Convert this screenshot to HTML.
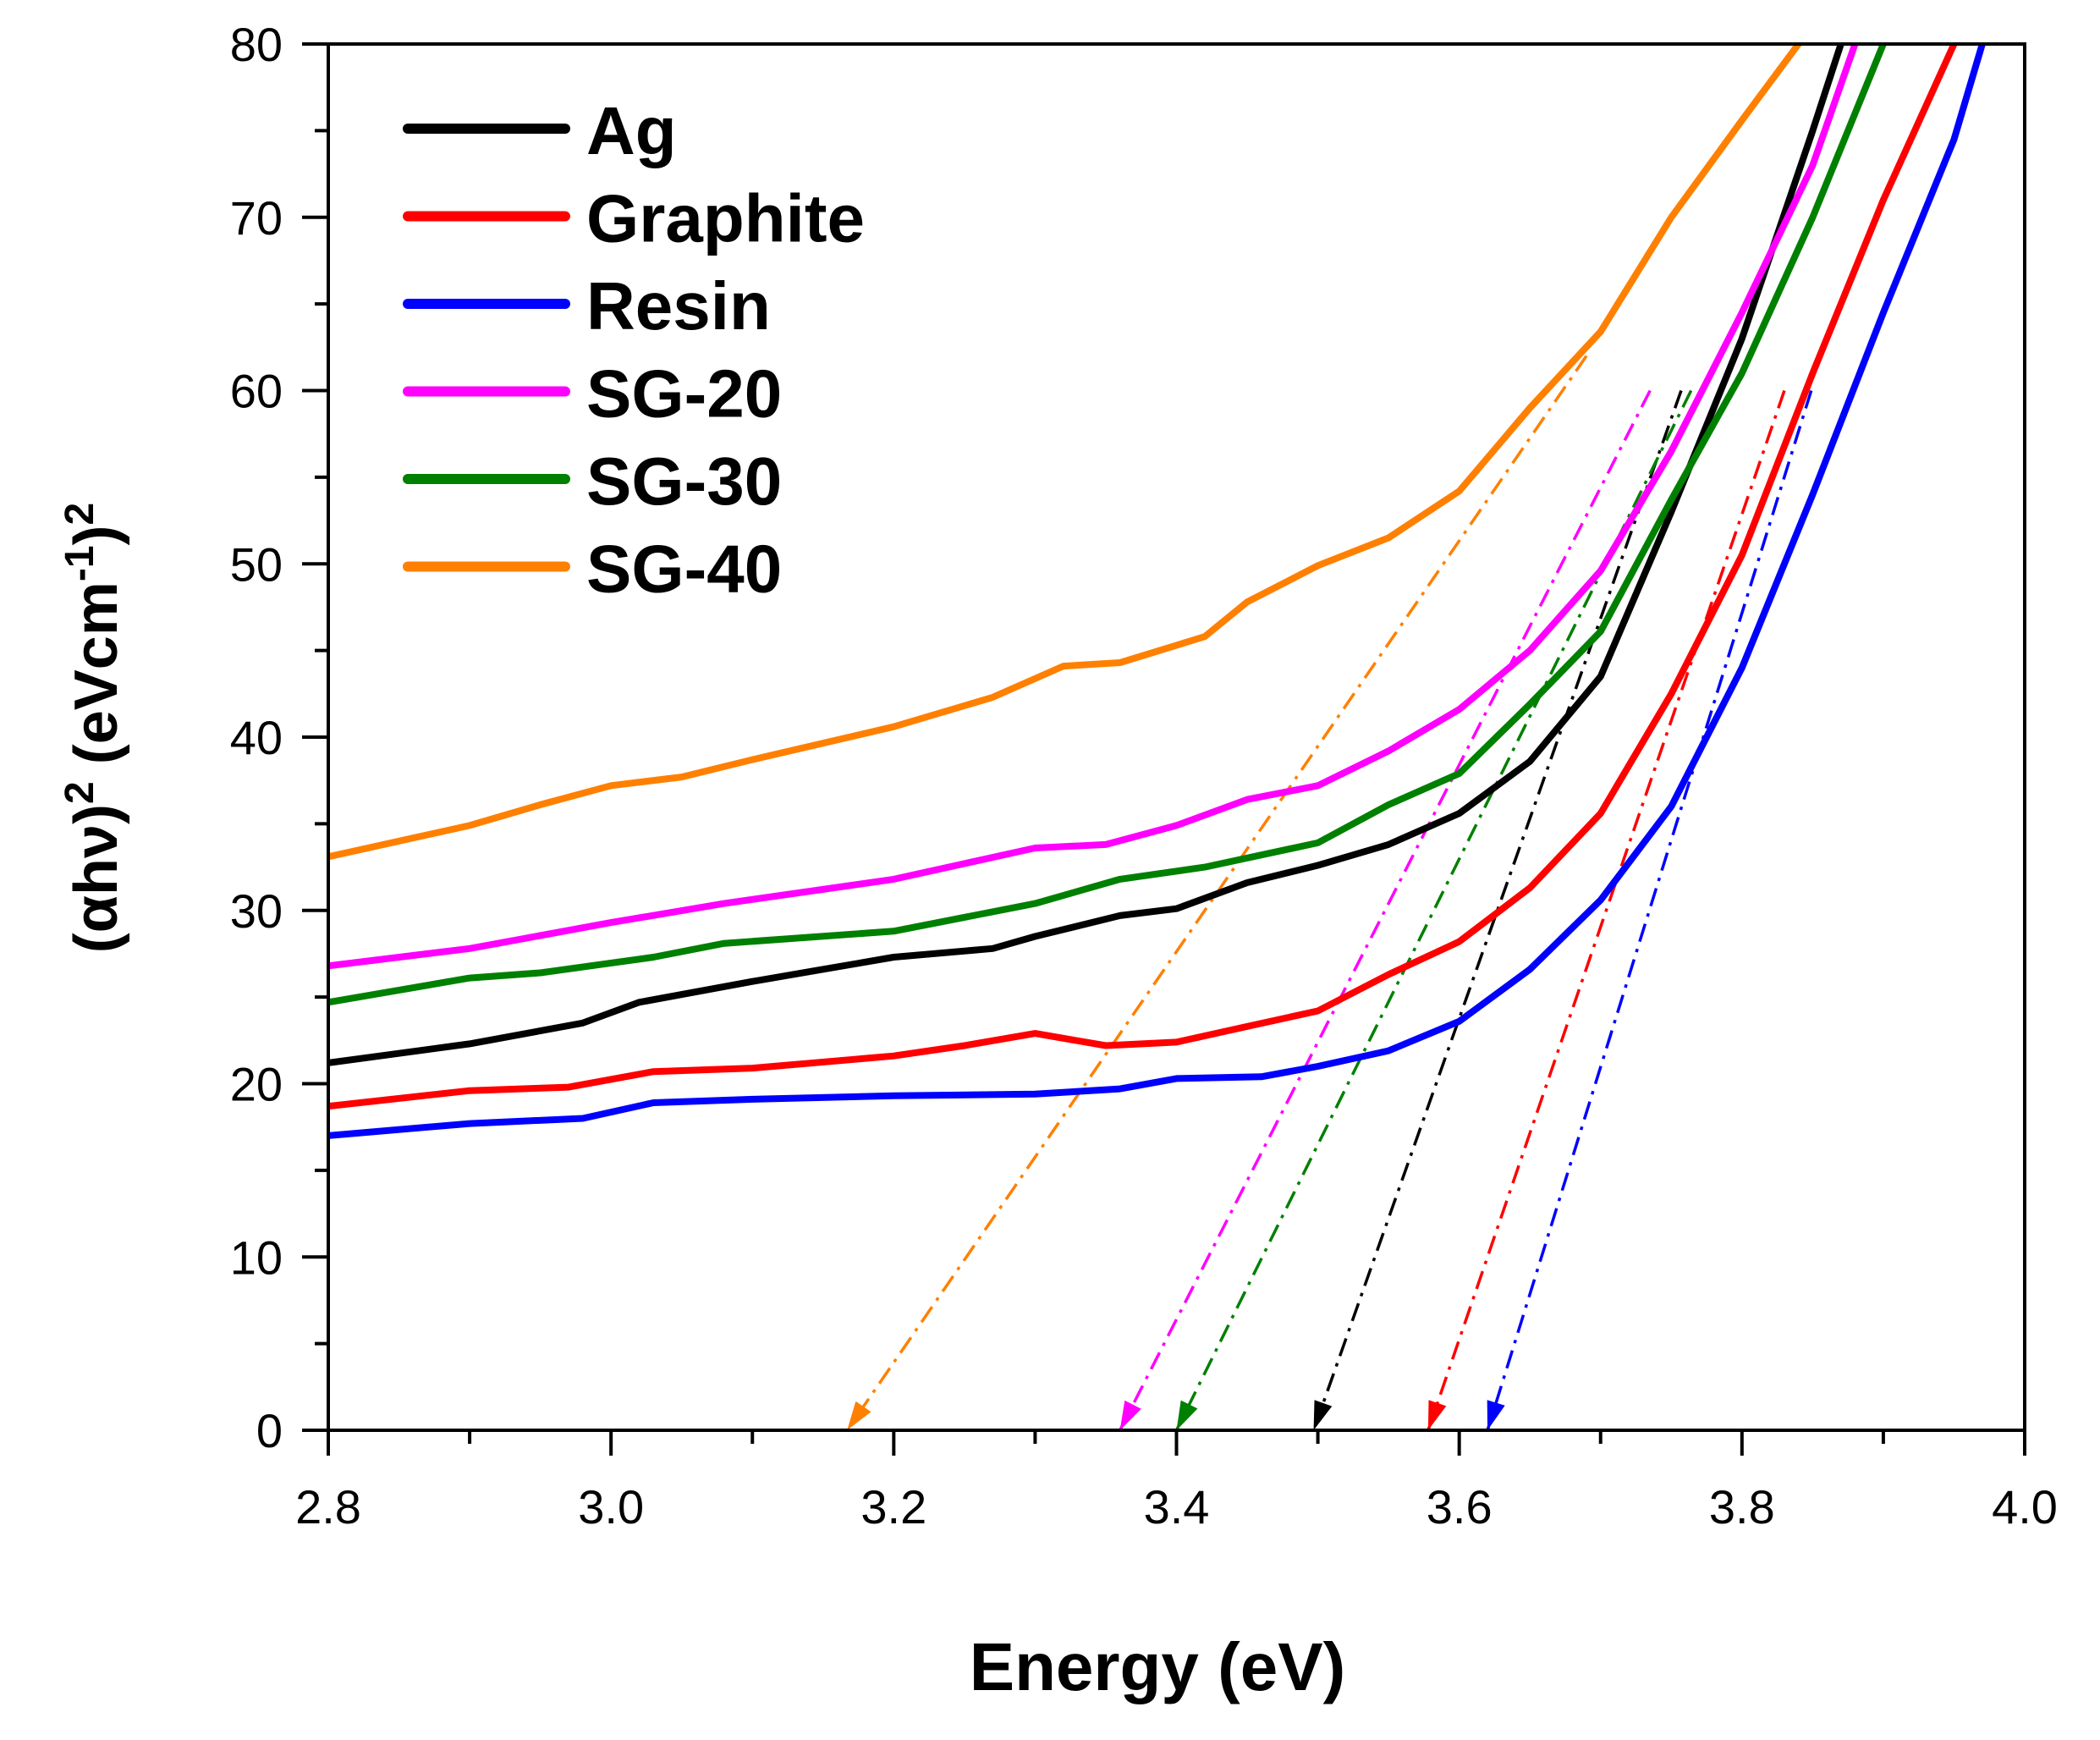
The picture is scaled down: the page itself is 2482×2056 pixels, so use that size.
<!DOCTYPE html>
<html><head><meta charset="utf-8"><style>
html,body{margin:0;padding:0;background:#fff;}
svg{display:block;}
text{font-family:"Liberation Sans",Arial,sans-serif;}
</style></head><body>
<svg id="chart" width="2482" height="2056" viewBox="0 0 2482 2056" xmlns="http://www.w3.org/2000/svg">
<g id="plot"></g>
</svg>
<script>
const xTicks = [2.8, 3.0, 3.2, 3.4, 3.6, 3.8, 4.0];
const xTickLabels = ["2.8","3.0","3.2","3.4","3.6","3.8","4.0"];
const yTicks = [0,10,20,30,40,50,60,70,80];
const yTickLabels = ["0","10","20","30","40","50","60","70","80"];
const seriesNames = ["Ag","Graphite","Resin","SG-20","SG-30","SG-40"];
const seriesColors = ["#000000","#ff0000","#0000ff","#ff00ff","#008000","#ff8000"];
const agX = [2.8,2.9,2.98,3.02,3.1,3.2,3.27,3.3,3.36,3.4,3.45,3.5,3.55,3.6,3.65,3.7,3.75,3.8,3.85,3.87];
const agY = [21.2,22.3,23.5,24.7,25.9,27.3,27.8,28.5,29.7,30.1,31.6,32.6,33.8,35.6,38.6,43.5,53,63,75,80];
const graphiteX = [2.8,2.9,2.97,3.03,3.1,3.2,3.25,3.3,3.35,3.4,3.45,3.5,3.55,3.6,3.65,3.7,3.75,3.8,3.85,3.9,3.95];
const graphiteY = [18.7,19.6,19.8,20.7,20.9,21.6,22.2,22.9,22.2,22.4,23.3,24.2,26.3,28.2,31.3,35.6,42.5,50.5,61,71,80];
const resinX = [2.8,2.9,2.98,3.03,3.1,3.2,3.3,3.36,3.4,3.46,3.5,3.55,3.6,3.65,3.7,3.75,3.8,3.85,3.9,3.95,3.97];
const resinY = [17,17.7,18,18.9,19.1,19.3,19.4,19.7,20.3,20.4,21,21.9,23.6,26.6,30.6,36,44,54,64.5,74.5,80];
const sg20X = [2.8,2.9,3.0,3.08,3.2,3.3,3.35,3.4,3.45,3.5,3.55,3.6,3.65,3.7,3.75,3.8,3.85,3.88];
const sg20Y = [26.8,27.8,29.3,30.4,31.8,33.6,33.8,34.9,36.4,37.2,39.2,41.6,45,49.6,56.5,64.5,73,80];
const sg30X = [2.8,2.9,2.95,3.03,3.08,3.2,3.3,3.36,3.42,3.5,3.55,3.6,3.65,3.7,3.75,3.8,3.85,3.9];
const sg30Y = [24.7,26.1,26.4,27.3,28.1,28.8,30.4,31.8,32.5,33.9,36.1,37.9,41.9,46.1,53.7,61,70,80];
const sg40X = [2.8,2.9,2.95,3.0,3.05,3.1,3.2,3.27,3.32,3.36,3.42,3.45,3.5,3.55,3.6,3.65,3.7,3.75,3.8,3.84];
const sg40Y = [33.1,34.9,36.1,37.2,37.7,38.7,40.6,42.3,44.1,44.3,45.8,47.8,49.9,51.5,54.2,59,63.4,70,75.6,80];
const tangentStartX = [3.757,3.83,3.849,3.735,3.764,3.69];
const tangentStartY = [60,60,60,60,60,62];
const tangentEndX = [3.497,3.578,3.62,3.36,3.40,3.167];

const X0=388, X1=2393, Y0=1690, Y1=52;
const xs = v => X0 + (v-2.8)/(4.0-2.8)*(X1-X0);
const ys = v => Y0 - v/80*(Y0-Y1);
const NS="http://www.w3.org/2000/svg";
const svg=document.getElementById('chart');
function mk(tag, attrs, parent){const e=document.createElementNS(NS,tag);for(const k in attrs)e.setAttribute(k,attrs[k]);(parent||svg).appendChild(e);return e;}

const allX=[agX,graphiteX,resinX,sg20X,sg30X,sg40X];
const allY=[agY,graphiteY,resinY,sg20Y,sg30Y,sg40Y];
const clip=mk('clipPath',{id:'pc'});
mk('rect',{x:X0,y:Y1,width:X1-X0,height:Y0-Y1},clip);

for(let i=0;i<6;i++){
  const x1=xs(tangentStartX[i]), y1=ys(tangentStartY[i]), x2=xs(tangentEndX[i]), y2=ys(0);
  const l=mk('line',{x1:x1,y1:y1,x2:x2,y2:y2,stroke:seriesColors[i],'stroke-width':3.5,'stroke-dasharray':'22 9 4 9'});
  
  
  const ang=Math.atan2(y2-y1,x2-x1), L=34, W=11;
  const bx=x2-L*Math.cos(ang), by=y2-L*Math.sin(ang);
  const px=-Math.sin(ang)*W, py=Math.cos(ang)*W;
  const a=mk('polygon',{points:`${x2},${y2} ${bx+px},${by+py} ${bx-px},${by-py}`,fill:seriesColors[i]});
  
  
}
for(let i=0;i<6;i++){
  const pts=allX[i].map((x,j)=>xs(x).toFixed(1)+','+ys(allY[i][j]).toFixed(1)).join(' ');
  const p=mk('polyline',{points:pts,fill:'none',stroke:seriesColors[i],'stroke-width':8,'stroke-linejoin':'round','clip-path':'url(#pc)'});
  
  
}
const fr=mk('rect',{x:X0,y:Y1,width:X1-X0,height:Y0-Y1,fill:'none',stroke:'#000','stroke-width':4});


for(let i=0;i<xTicks.length;i++){
  const x=xs(xTicks[i]);
  const t=mk('line',{x1:x,y1:Y0,x2:x,y2:Y0+30,stroke:'#000','stroke-width':4});
  
  
  const lb=mk('text',{x:x,y:1800,'font-size':56,'text-anchor':'middle',fill:'#000'});
  lb.textContent=xTickLabels[i];
  
  
  if(i<xTicks.length-1){
    const m=xs(xTicks[i]+0.1);
    const mt=mk('line',{x1:m,y1:Y0,x2:m,y2:Y0+16,stroke:'#000','stroke-width':4});
    
    
  }
}
for(let i=0;i<yTicks.length;i++){
  const y=ys(yTicks[i]);
  const t=mk('line',{x1:X0-31,y1:y,x2:X0,y2:y,stroke:'#000','stroke-width':4});
  
  
  const lb=mk('text',{x:334,y:y+20,'font-size':56,'text-anchor':'end',fill:'#000'});
  lb.textContent=yTickLabels[i];
  
  
  if(i<yTicks.length-1){
    const m=ys(yTicks[i]+5);
    const mt=mk('line',{x1:X0-16,y1:m,x2:X0,y2:m,stroke:'#000','stroke-width':4});
    
    
  }
}
for(let i=0;i<6;i++){
  const y=152+i*103.5;
  const l=mk('line',{x1:482,y1:y,x2:668,y2:y,stroke:seriesColors[i],'stroke-width':12,'stroke-linecap':'round'});
  
  
  const t=mk('text',{x:693,y:y+30,'font-size':80,'font-weight':'bold',fill:'#000'});
  t.textContent=seriesNames[i];
  
  
}
const xt=mk('text',{x:1368,y:1997,'font-size':80,'font-weight':'bold','text-anchor':'middle',fill:'#000'});
xt.textContent='Energy (eV)';


const yt=mk('text',{x:0,y:0,'font-size':72,'font-weight':'bold','text-anchor':'middle',fill:'#000',transform:'translate(138,860) rotate(-90)'});
yt.innerHTML='(αhν)<tspan dy="-28" font-size="48">2</tspan><tspan dy="28"> (eVcm</tspan><tspan dy="-28" font-size="48">-1</tspan><tspan dy="28">)</tspan><tspan dy="-28" font-size="48">2</tspan>';


</script>
</body></html>
